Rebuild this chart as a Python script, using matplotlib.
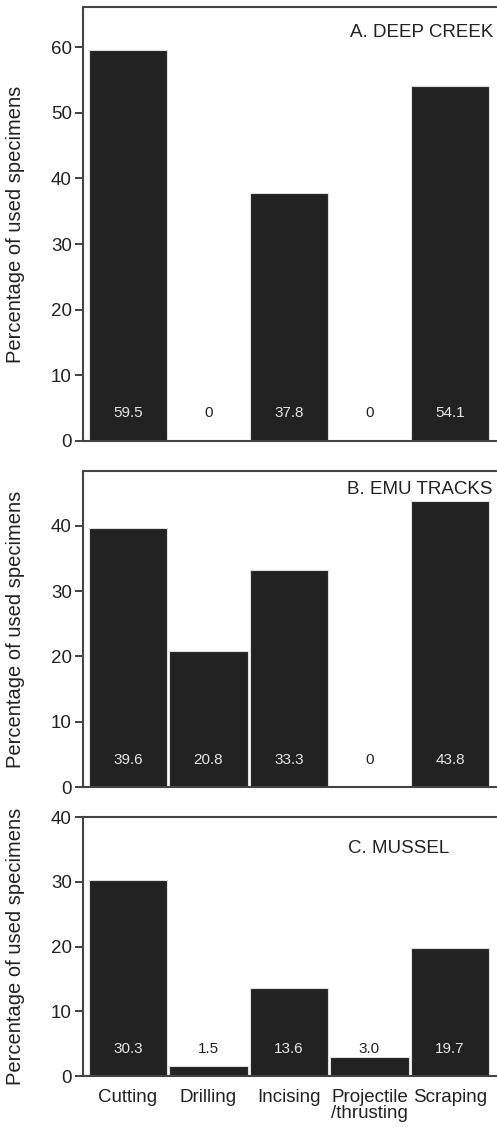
import matplotlib
matplotlib.use('Agg')
import matplotlib.pyplot as plt

plt.rcParams['font.family'] = ['Liberation Sans', 'DejaVu Sans']

# Datos
categorias = ['Cutting', 'Drilling', 'Incising', 'Projectile\n/thrusting', 'Scraping']
deep_creek = [59.5, 0, 37.8, 0, 54.1]
emu_tracks = [39.6, 20.8, 33.3, 0, 43.8]
mussel = [30.3, 1.5, 13.6, 3.0, 19.7]
titulos = ['A. DEEP CREEK', 'B. EMU TRACKS', 'C. MUSSEL']
ytope = [66.1, 48.4, 40]
yticks = [[0, 10, 20, 30, 40, 50, 60], [0, 10, 20, 30, 40], [0, 10, 20, 30, 40]]

fig = plt.figure(figsize=(4.97, 11.29), dpi=100)

# posiciones en fracción de figura (izq, abajo, ancho, alto)
# el eje se sale un poco por la derecha: el borde derecho no se ve en el original
posiciones = [
    [0.167, 0.6094, 0.840, 0.3844],
    [0.167, 0.3029, 0.840, 0.2799],
    [0.167, 0.0469, 0.840, 0.2294],
]
# posición del título en coordenadas del eje
pos_titulo = [(0.982, 0.942, 'right'), (0.982, 0.940, 'right'), (0.755, 0.880, 'center')]

color_barra = '#222222'
color_eje = '#444444'

series = [deep_creek, emu_tracks, mussel]
x = list(range(len(categorias)))

for i, valores in enumerate(series):
    ax = fig.add_axes(posiciones[i])
    ax.bar(x, valores, width=0.97, color=color_barra, edgecolor='#dddddd', linewidth=0.8)

    for xi, v in zip(x, valores):
        col = '#e6e6e6' if v > 5 else '#222222'
        etiqueta = '0' if v == 0 else f'{v:.1f}'
        ax.text(xi, 4.2, etiqueta, ha='center', va='center', fontsize=11, color=col)

    ax.set_xlim(-0.559, 4.627)
    ax.set_ylim(0, ytope[i])
    ax.set_yticks(yticks[i])
    ax.tick_params(axis='y', length=6, width=1.2, pad=2, labelsize=13.5, colors='#222222')
    for s in ax.spines.values():
        s.set_color(color_eje)
        s.set_linewidth(1.5)

    ax.set_ylabel('Percentage of used specimens', fontsize=14.5, color='#222222')
    ax.yaxis.set_label_coords(-0.14, 0.5)

    tx, ty, ha = pos_titulo[i]
    ax.text(tx, ty, titulos[i], transform=ax.transAxes, ha=ha, va='center',
            fontsize=13.5, color='#222222')

    if i < 2:
        ax.set_xticks([])
    else:
        ax.set_xticks(x)
        ax.set_xticklabels(categorias, fontsize=13.5, color='#222222', linespacing=0.95)
        ax.tick_params(axis='x', length=0, pad=9)

plt.savefig('out.png', dpi=100)
